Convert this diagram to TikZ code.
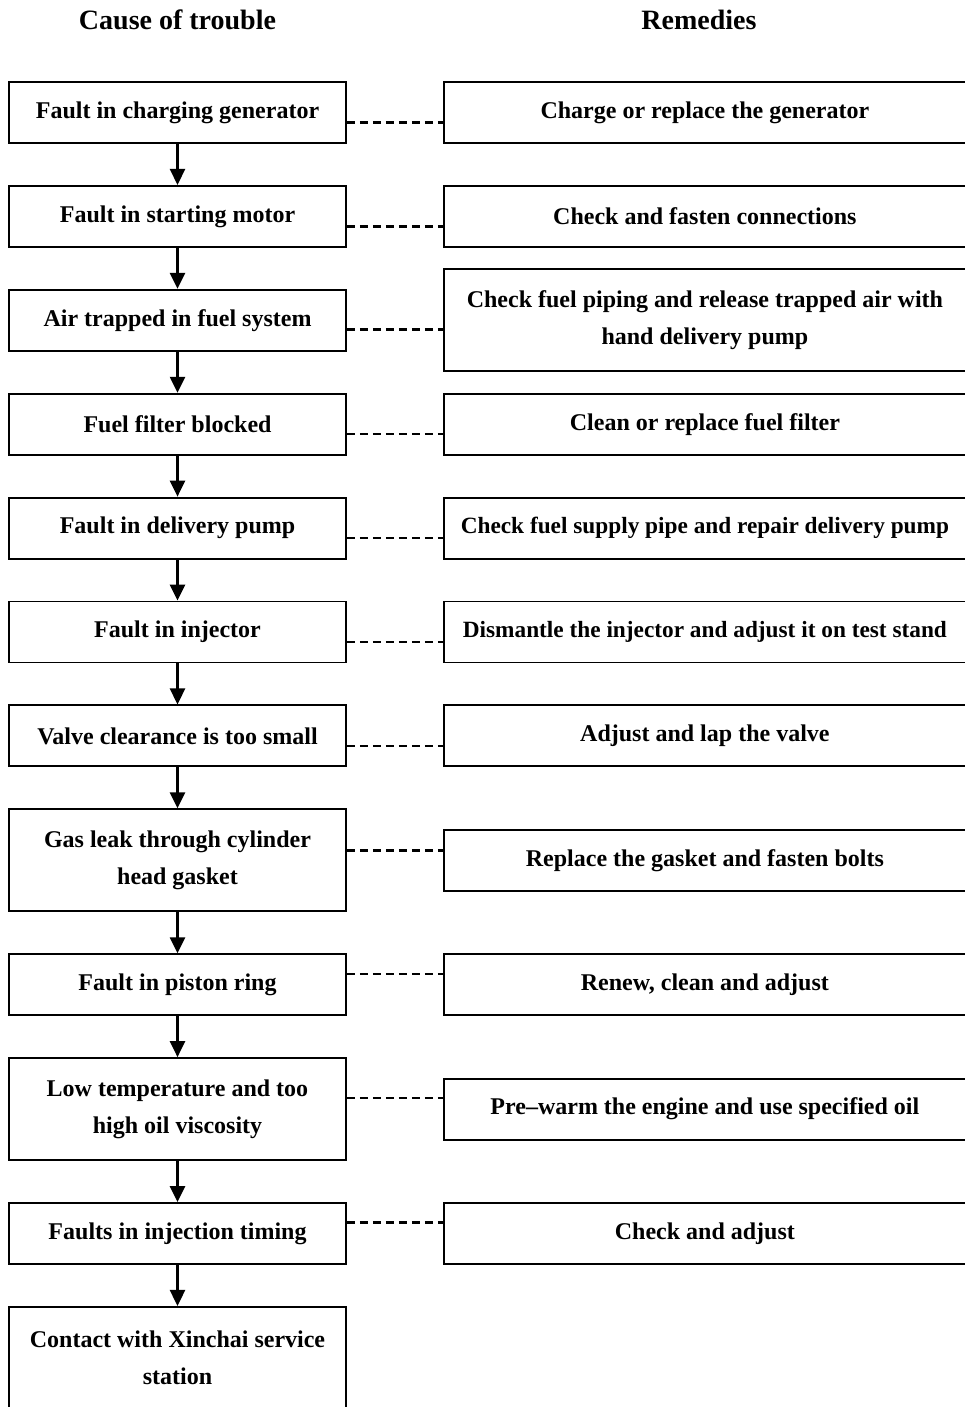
\documentclass[tikz,border=0pt]{standalone}
\usepackage{fontspec}
\setmainfont{Liberation Serif}
\usetikzlibrary{arrows.meta,positioning}

\begin{document}
\begin{tikzpicture}[
  x=1pt, y=-1pt,
  node distance=41pt and 96pt,
  cause/.style={draw, line width=1.9pt, minimum width=337pt, minimum height=61pt, inner sep=0pt, align=center, font=\bfseries\fontsize{24}{37}\selectfont},
  tall/.style={minimum height=102pt},
  remedy/.style={cause, minimum width=522pt},
  narrow/.style={font=\bfseries\fontsize{23.3}{37}\selectfont},
  head/.style={font=\bfseries\fontsize{28}{32}\selectfont},
  arr/.style={-{Triangle[length=16pt,width=15pt]}, line width=2.6pt},
  link/.style={dash pattern=on 8pt off 5pt, line width=2.4pt}
]
  \useasboundingbox (0,0) rectangle (965,1407);

  \node[head] (hc) at (177.5,20) {Cause of trouble};
  \node[head] (hr) at (699,20) {Remedies};

  % causes
  \node[cause] (c1) at (177.5,112.5) {Fault in charging generator};
  \node[cause, below=of c1] (c2) {Fault in starting motor};
  \node[cause, below=of c2] (c3) {Air trapped in fuel system};
  \node[cause, below=of c3] (c4) {Fuel filter blocked};
  \node[cause, below=of c4] (c5) {Fault in delivery pump};
  \node[cause, below=of c5] (c6) {Fault in injector};
  \node[cause, below=of c6] (c7) {Valve clearance is too small};
  \node[cause, tall, below=of c7] (c8) {Gas leak through cylinder\\head gasket};
  \node[cause, below=of c8] (c9) {Fault in piston ring};
  \node[cause, tall, below=of c9] (c10) {Low temperature and too\\high oil viscosity};
  \node[cause, below=of c10] (c11) {Faults in injection timing};
  \node[cause, tall, below=of c11] (c12) {Contact with Xinchai service\\station};

  % remedies
  \node[remedy, right=of c1] (r1) {Charge or replace the generator};
  \node[remedy, right=of c2] (r2) {Check and fasten connections};
  \node[remedy, tall, right=of c3] (r3) {Check fuel piping and release trapped air with\\hand delivery pump};
  \node[remedy, right=of c4] (r4) {Clean or replace fuel filter};
  \node[remedy, narrow, right=of c5] (r5) {Check fuel supply pipe and repair delivery pump};
  \node[remedy, narrow, right=of c6] (r6) {Dismantle the injector and adjust it on test stand};
  \node[remedy, right=of c7] (r7) {Adjust and lap the valve};
  \node[remedy, right=of c8] (r8) {Replace the gasket and fasten bolts};
  \node[remedy, right=of c9] (r9) {Renew, clean and adjust};
  \node[remedy, right=of c10] (r10) {Pre--warm the engine and use specified oil};
  \node[remedy, right=of c11] (r11) {Check and adjust};

  \foreach \i in {1,...,11} {
    \pgfmathtruncatemacro{\nxt}{\i+1}
    \draw[arr] (c\i.south) -- (c\nxt.north);
  }

  \foreach \i/\dy in {1/-10,2/-10,3/-9,4/-10,5/-10,6/-10,7/-10,8/10,9/11,10/11,11/11}
    \draw[link] ([yshift=\dy pt]c\i.east) -- ([yshift=\dy pt]c\i.east -| r\i.west);
\end{tikzpicture}
\end{document}
